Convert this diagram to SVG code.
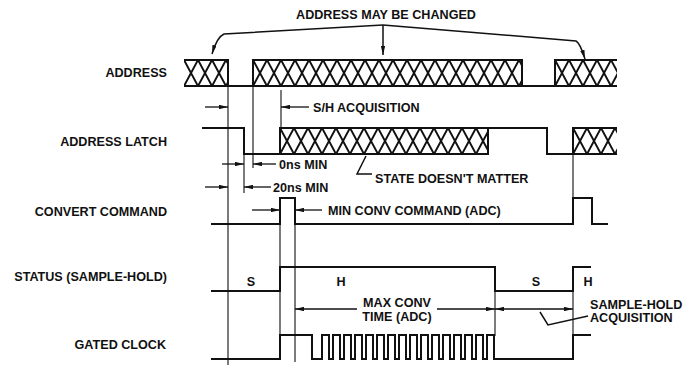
<svg xmlns="http://www.w3.org/2000/svg" width="695" height="365" viewBox="0 0 695 365">
<style>
text{font-family:"Liberation Sans",Arial,sans-serif;font-weight:bold;font-size:12.6px;fill:#111}
.lbl{text-anchor:end}
.mid{text-anchor:middle}
.sig{fill:none;stroke:#111;stroke-width:2;stroke-linejoin:miter}
.ref{fill:none;stroke:#111;stroke-width:1.1}
.dim{fill:none;stroke:#111;stroke-width:1.3;marker-end:url(#ah)}
.lead{fill:none;stroke:#111;stroke-width:1.5}
</style>
<defs>
<marker id="ah" viewBox="0 0 9 4.4" refX="9" refY="2.2" markerWidth="9" markerHeight="4.4" markerUnits="userSpaceOnUse" orient="auto-start-reverse"><path d="M0,0 L9,2.2 L0,4.4 z" fill="#111"/></marker>
<pattern id="hx" width="14" height="26" patternUnits="userSpaceOnUse"><path d="M0,0 L14,26 M0,26 L14,0" stroke="#111" stroke-width="2" fill="none"/></pattern>
</defs>
<rect width="695" height="365" fill="#fff"/>

<g id="title">
<text class="mid" x="386" y="19">ADDRESS MAY BE CHANGED</text>
<path class="lead" d="M383,25 L224,34 Q217,37 212,54" marker-end="url(#ah)"/>
<path class="lead" d="M383,25 V55" marker-end="url(#ah)"/>
<path class="lead" d="M383,25 L576,41 Q580,43 585,59" marker-end="url(#ah)"/>
</g>

<g id="labels">
<text class="lbl" x="167" y="77">ADDRESS</text>
<text class="lbl" x="167" y="146">ADDRESS LATCH</text>
<text class="lbl" x="167" y="216">CONVERT COMMAND</text>
<text class="lbl" x="167" y="281">STATUS (SAMPLE-HOLD)</text>
<text class="lbl" x="166" y="349">GATED CLOCK</text>
</g>

<g id="address">
<rect x="0" y="0" width="44" height="26" fill="url(#hx)" transform="translate(184,60)"/>
<rect x="0" y="0" width="269" height="26" fill="url(#hx)" transform="translate(253,60)"/>
<rect x="0" y="0" width="62" height="26" fill="url(#hx)" transform="translate(555,60)"/>
<path class="sig" d="M184,60 H228 V86 M184,86 H617 M253,86 V60 H522 V86 M555,86 V60 H617"/>
</g>

<g id="address-latch">
<rect x="0" y="0" width="208" height="26" fill="url(#hx)" transform="translate(280,128)"/>
<rect x="0" y="0" width="44" height="26" fill="url(#hx)" transform="translate(573,128)"/>
<path class="sig" d="M202,128 H244 V154 H488 V128 M280,154 V128 H547 V154 H573 V128 H617 M573,154 H617"/>
</g>

<g id="convert-command">
<path class="sig" d="M211,224 H280 V198 H295 V224 H573 V198 H592 V224 H608"/>
</g>

<g id="status">
<path class="sig" d="M211,291 H280 V267 H495 V291 H573 V267 H591"/>
<text class="mid" x="251" y="286">S</text>
<text class="mid" x="341" y="286">H</text>
<text class="mid" x="536" y="286">S</text>
<text class="mid" x="588" y="286">H</text>
</g>

<g id="gated-clock">
<path class="sig" d="M211,359 H280 V335 H312 V359 H322 V335 H329 V359 H333 V335 H340 V359 H344 V335 H351 V359 H355 V335 H362 V359 H366 V335 H373 V359 H377 V335 H384 V359 H388 V335 H395 V359 H399 V335 H406 V359 H410 V335 H417 V359 H421 V335 H428 V359 H432 V335 H439 V359 H443 V335 H450 V359 H454 V335 H461 V359 H465 V335 H472 V359 H476 V335 H483 V359 H487 V335 H494 V359 H573 V335 H591"/>
</g>

<g id="connectors">
<path class="ref" d="M228,86 V365 M244,154 V193 M253,86 V168 M281,90 V128 M280,224 V267 M280,291 V335 M295,224 V362 M495,291 V336 M573,154 V198 M573,291 V335"/>
<path class="dim" d="M205,107 H228"/>
<path class="dim" d="M309,107 H281"/>
<path class="dim" d="M222,164 H244"/>
<path class="dim" d="M276,164 H253"/>
<path class="dim" d="M205,187 H228"/>
<path class="dim" d="M271,187 H244"/>
<path class="dim" d="M252,210 H280"/>
<path class="dim" d="M322,210 H295"/>
<path class="dim" d="M357,309 H295"/>
<path class="dim" d="M437,309 H495"/>
<path class="dim" d="M495,309 H573" marker-start="url(#ah)"/>
<path class="lead" d="M366,156 L357,174 H372"/>
<path class="lead" d="M588,316 L548,325 L540,312"/>
</g>

<g id="annotations">
<text x="313" y="112">S/H ACQUISITION</text>
<text x="279" y="169">0ns MIN</text>
<text x="273" y="192">20ns MIN</text>
<text x="375" y="183">STATE DOESN'T MATTER</text>
<text x="328" y="215">MIN CONV COMMAND (ADC)</text>
<text class="mid" x="397" y="307">MAX CONV</text>
<text class="mid" x="397" y="321">TIME (ADC)</text>
<text x="590" y="309">SAMPLE-HOLD</text>
<text x="590" y="322">ACQUISITION</text>
</g>
</svg>
